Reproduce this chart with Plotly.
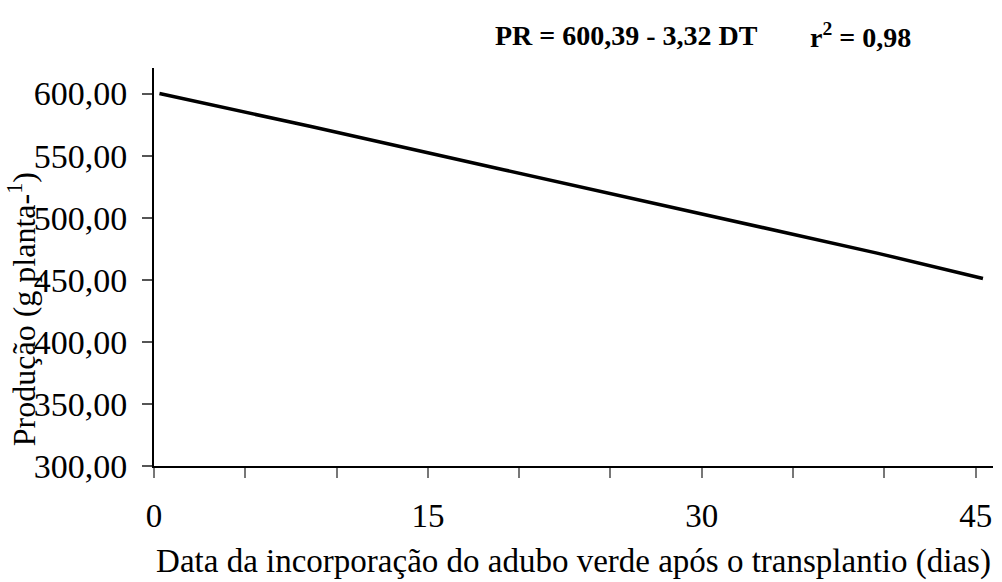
import plotly.graph_objects as go

# Data
dias = [0.3, 8.6, 19.2, 29.9, 39.6, 45.4]
producao = [600.0, 573.5, 538.5, 503.0, 471.5, 451.0]

x_tickvals = [0, 5, 10, 15, 20, 25, 30, 35, 40, 45]
x_ticktext = ["0", "", "", "15", "", "", "30", "", "", "45"]
y_tickvals = [300, 350, 400, 450, 500, 550, 600]
y_ticktext = ["300,00", "350,00", "400,00", "450,00", "500,00", "550,00", "600,00"]

FONT = "Liberation Serif"

fig = go.Figure()
fig.add_trace(go.Scatter(
    x=dias, y=producao, mode="lines",
    line=dict(color="black", width=3.5),
    hoverinfo="skip", showlegend=False,
))

fig.update_layout(
    width=1002, height=582,
    margin=dict(l=154, r=9, t=68, b=110),
    paper_bgcolor="white", plot_bgcolor="white",
    font=dict(family=FONT, size=33, color="black"),
    xaxis=dict(
        range=[0, 45.95], tickvals=x_tickvals, ticktext=x_ticktext,
        showgrid=False, zeroline=False,
        showline=True, linecolor="black", linewidth=2,
        ticks="outside", ticklen=10, tickwidth=2, tickcolor="#777777",
        ticklabelstandoff=9,
        tickfont=dict(family=FONT, size=33),
        title=dict(text="Data da incorporação do adubo verde após o transplantio (dias)",
                   font=dict(family=FONT, size=33), standoff=16),
    ),
    yaxis=dict(
        range=[300, 620.6], tickvals=y_tickvals, ticktext=y_ticktext,
        showgrid=False, zeroline=False,
        showline=True, linecolor="black", linewidth=2,
        ticks="outside", ticklen=10, tickwidth=2, tickcolor="#555555",
        ticklabelstandoff=8,
        tickfont=dict(family=FONT, size=34),
    ),
    annotations=[
        dict(text="Produção (g planta-<sup>1</sup>)", textangle=-90,
             xref="paper", yref="paper", x=(22 - 154) / 839, y=0.394,
             xanchor="center", yanchor="middle", showarrow=False,
             font=dict(family=FONT, size=32, color="black")),
        dict(text="<b>PR = 600,39 - 3,32 DT</b>",
             xref="paper", yref="paper", x=(493 - 154) / 839, y=(472 - 35) / 404,
             xanchor="left", yanchor="middle", showarrow=False,
             font=dict(family=FONT, size=28, color="black")),
        dict(text="<b>r<sup>2</sup> = 0,98</b>",
             xref="paper", yref="paper", x=(808 - 154) / 839, y=(472 - 35) / 404,
             xanchor="left", yanchor="middle", showarrow=False,
             font=dict(family=FONT, size=28, color="black")),
    ],
)

fig.write_html("out.html")
